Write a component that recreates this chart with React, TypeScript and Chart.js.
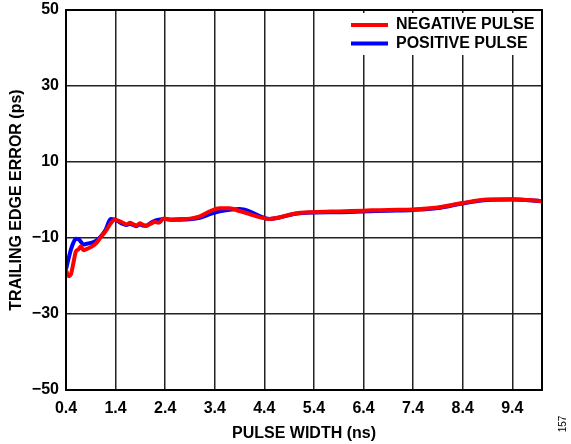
import React, { useEffect, useRef } from "react";
import { Chart, registerables } from "chart.js";

Chart.register(...registerables);

const pulseWidth = [
  0.4, 0.45, 0.5, 0.55, 0.6, 0.65, 0.7, 0.75, 0.8, 0.9, 1.0, 1.1, 1.2, 1.3, 1.38,
  1.45, 1.55, 1.62, 1.69, 1.76, 1.82, 1.89, 1.95, 2.01, 2.1, 2.19, 2.27, 2.37, 2.5,
  2.7, 2.9, 3.1, 3.3, 3.5, 3.7, 3.9, 4.1, 4.3, 4.5, 4.7, 5.0, 5.4, 5.9, 6.4, 6.9,
  7.4, 7.9, 8.4, 8.9, 9.4, 10.0,
];

const negativePulse = [
  -18.4, -20.0, -19.5, -16.5, -13.5, -13.0, -12.2, -13.2, -13.0, -12.4, -11.5, -9.8,
  -8.2, -6.2, -5.2, -5.4, -6.0, -6.4, -6.0, -6.4, -6.7, -6.1, -6.5, -6.8, -6.3, -5.8,
  -6.0, -4.9, -5.1, -5.0, -4.9, -4.3, -3.0, -2.2, -2.2, -2.9, -3.7, -4.5, -5.0, -4.6,
  -3.6, -3.2, -3.0, -2.8, -2.6, -2.5, -2.0, -0.8, 0.1, 0.2, -0.3,
];

const positivePulse = [
  -18.2, -15.5, -13.0, -11.2, -10.2, -10.3, -11.0, -11.7, -11.6, -11.3, -10.8, -9.6,
  -7.8, -5.0, -5.1, -5.6, -6.3, -6.6, -6.3, -6.6, -6.9, -6.4, -6.7, -6.8, -6.1, -5.5,
  -5.2, -5.0, -5.2, -5.2, -5.1, -4.7, -3.7, -3.0, -2.6, -2.4, -3.0, -4.2, -5.0, -4.6,
  -3.7, -3.3, -3.2, -3.0, -2.8, -2.6, -2.1, -0.9, 0.0, 0.1, -0.3,
];

const xTicks = [0.4, 1.4, 2.4, 3.4, 4.4, 5.4, 6.4, 7.4, 8.4, 9.4];
const seriesLabels = ["NEGATIVE PULSE", "POSITIVE PULSE"];
const seriesColors = ["#ff0000", "#0000ff"];
const figureNumber = "157";

const FONT = "'Liberation Sans', Arial, Helvetica, sans-serif";

const overlayPlugin = {
  id: "overlay",
  afterDatasetsDraw(chart: any) {
    const { ctx, chartArea } = chart;
    const { left, right, top, bottom } = chartArea;
    ctx.save();
    // legend box
    ctx.fillStyle = "#ffffff";
    ctx.fillRect(right - 196, top + 3, 195, 42);
    chart.data.datasets.forEach((ds: any, i: number) => {
      const y = top + 15 + i * 18.5;
      ctx.strokeStyle = ds.borderColor;
      ctx.lineWidth = 4;
      ctx.beginPath();
      ctx.moveTo(right - 191, y);
      ctx.lineTo(right - 154, y);
      ctx.stroke();
      ctx.fillStyle = "#000";
      ctx.font = `bold 16px ${FONT}`;
      ctx.textBaseline = "middle";
      ctx.textAlign = "left";
      ctx.fillText(ds.label, right - 146, y);
    });
    // border
    ctx.strokeStyle = "#000";
    ctx.lineWidth = 2;
    ctx.strokeRect(left, top, right - left, bottom - top);
    ctx.restore();
  },
  afterDraw(chart: any) {
    const { ctx } = chart;
    ctx.save();
    ctx.translate(563, 424);
    ctx.rotate(-Math.PI / 2);
    ctx.fillStyle = "#000";
    ctx.font = `10px ${FONT}`;
    ctx.textAlign = "center";
    ctx.textBaseline = "middle";
    ctx.fillText(figureNumber, 0, 0);
    ctx.restore();
  },
};

export default function App() {
  const ref = useRef<HTMLCanvasElement | null>(null);

  useEffect(() => {
    document.body.style.margin = "0";
    const canvas = ref.current;
    if (!canvas) return;
    const chart = new Chart(canvas, {
      type: "line",
      data: {
        datasets: [
          {
            label: seriesLabels[0],
            data: pulseWidth.map((x, i) => ({ x, y: negativePulse[i] })),
            borderColor: seriesColors[0],
            backgroundColor: seriesColors[0],
            borderWidth: 4,
            pointRadius: 0,
            cubicInterpolationMode: "monotone",
          },
          {
            label: seriesLabels[1],
            data: pulseWidth.map((x, i) => ({ x, y: positivePulse[i] })),
            borderColor: seriesColors[1],
            backgroundColor: seriesColors[1],
            borderWidth: 4,
            pointRadius: 0,
            cubicInterpolationMode: "monotone",
          },
        ],
      },
      options: {
        animation: false,
        responsive: false,
        devicePixelRatio: 1,
        layout: { padding: { top: 10, right: 29, left: 0, bottom: 0 } },
        plugins: { legend: { display: false }, tooltip: { enabled: false } },
        scales: {
          x: {
            type: "linear",
            min: 0.4,
            max: 10,
            afterBuildTicks: (axis: any) => {
              axis.ticks = xTicks.map((v) => ({ value: v }));
            },
            afterFit: (axis: any) => {
              axis.height = 54;
              axis.paddingLeft = 0;
              axis.paddingRight = 0;
            },
            grid: { color: "#222", lineWidth: 1.5, drawTicks: false },
            border: { display: false },
            ticks: {
              color: "#000",
              font: { family: FONT, size: 16, weight: "bold" },
              padding: 9,
              maxRotation: 0,
              autoSkip: false,
              callback: (v: any) => Number(v).toFixed(1),
            },
            title: {
              display: true,
              text: "PULSE WIDTH (ns)",
              color: "#000",
              font: { family: FONT, size: 16, weight: "bold" },
              padding: { top: 0, bottom: 1 },
            },
          },
          y: {
            min: -50,
            max: 50,
            afterFit: (axis: any) => {
              axis.width = 66;
              axis.paddingTop = 0;
              axis.paddingBottom = 0;
            },
            grid: { color: "#222", lineWidth: 1.5, drawTicks: false },
            border: { display: false },
            ticks: {
              stepSize: 20,
              color: "#000",
              font: { family: FONT, size: 16, weight: "bold" },
              padding: 7,
              callback: (v: any) => (v < 0 ? "\u2212" + Math.abs(v) : String(v)),
            },
            title: {
              display: true,
              text: "TRAILING EDGE ERROR (ps)",
              color: "#000",
              font: { family: FONT, size: 16, weight: "bold" },
              padding: { top: 7, bottom: 0 },
            },
          },
        },
      },
      plugins: [overlayPlugin],
    } as any);
    return () => chart.destroy();
  }, []);

  return (
    <div style={{ width: 571, height: 444 }}>
      <canvas ref={ref} width={571} height={444} style={{ display: "block" }} />
    </div>
  );
}
